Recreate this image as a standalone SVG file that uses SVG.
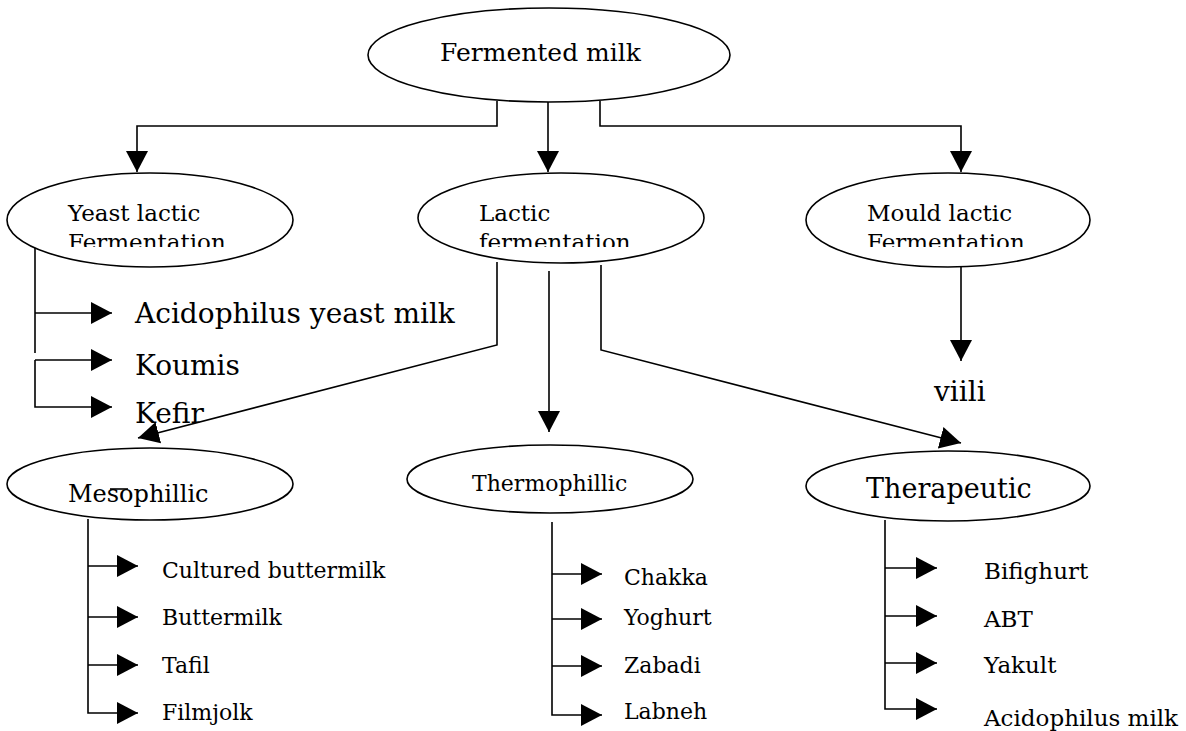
<svg xmlns="http://www.w3.org/2000/svg" width="1186" height="731" viewBox="0 0 1186 731">
<style>
.el{fill:#fff;stroke:#000;stroke-width:1.6}
.cn{fill:none;stroke:#000;stroke-width:1.6}
text{font-family:"DejaVu Serif","Liberation Serif",serif;fill:#000}
.t22{font-size:22px}
.t23{font-size:23px}
.t28{font-size:28px}
</style>
<defs>
<marker id="ah" markerUnits="userSpaceOnUse" markerWidth="21" markerHeight="22" viewBox="0 0 21 22" refX="21" refY="11" orient="auto">
<path d="M0,0 L21,11 L0,22 Z" fill="#000"/>
</marker>
<clipPath id="c2"><rect x="0" y="0" width="1186" height="247"/></clipPath>
</defs>
<rect width="1186" height="731" fill="#fff"/>

<g id="connectors">
<path class="cn" d="M497,101 V126 H137 V172" marker-end="url(#ah)"/>
<path class="cn" d="M548,102 V172" marker-end="url(#ah)"/>
<path class="cn" d="M600,101 V126 H961 V172" marker-end="url(#ah)"/>
<path class="cn" d="M35,242 V353"/>
<path class="cn" d="M35,313 H112" marker-end="url(#ah)"/>
<path class="cn" d="M35,360 H112" marker-end="url(#ah)"/>
<path class="cn" d="M35,360 V407 H112" marker-end="url(#ah)"/>
<path class="cn" d="M497,262 V345 L138,438" marker-end="url(#ah)"/>
<path class="cn" d="M549,271 V432" marker-end="url(#ah)"/>
<path class="cn" d="M601,265 V350 L961,443" marker-end="url(#ah)"/>
<path class="cn" d="M961,267 V361" marker-end="url(#ah)"/>
<path class="cn" d="M88,519 V713 H138" marker-end="url(#ah)"/>
<path class="cn" d="M88,566 H138" marker-end="url(#ah)"/>
<path class="cn" d="M88,617 H138" marker-end="url(#ah)"/>
<path class="cn" d="M88,665 H138" marker-end="url(#ah)"/>
<path class="cn" d="M552,522 V715 H602" marker-end="url(#ah)"/>
<path class="cn" d="M552,574 H602" marker-end="url(#ah)"/>
<path class="cn" d="M552,619 H602" marker-end="url(#ah)"/>
<path class="cn" d="M552,666 H602" marker-end="url(#ah)"/>
<path class="cn" d="M885,520 V709 H937" marker-end="url(#ah)"/>
<path class="cn" d="M885,568 H937" marker-end="url(#ah)"/>
<path class="cn" d="M885,616 H937" marker-end="url(#ah)"/>
<path class="cn" d="M885,663 H937" marker-end="url(#ah)"/>
</g>

<g id="fermented-milk">
<ellipse class="el" cx="549" cy="55" rx="181" ry="47"/>
<text x="440" y="61" style="font-size:25px">Fermented milk</text>
</g>

<g id="yeast-lactic">
<ellipse class="el" cx="150" cy="220" rx="143" ry="47"/>
<text class="t23" x="68" y="221">Yeast lactic</text>
<text class="t23" x="68" y="250" clip-path="url(#c2)">Fermentation</text>
</g>

<g id="lactic">
<ellipse class="el" cx="561" cy="218" rx="143" ry="45"/>
<text class="t23" x="479" y="221">Lactic</text>
<text class="t23" x="479" y="250" clip-path="url(#c2)">fermentation</text>
</g>

<g id="mould-lactic">
<ellipse class="el" cx="948" cy="220" rx="142" ry="47"/>
<text class="t23" x="867" y="221">Mould lactic</text>
<text class="t23" x="867" y="250" clip-path="url(#c2)">Fermentation</text>
</g>

<g id="yeast-products">
<text class="t28" x="135" y="323">Acidophilus yeast milk</text>
<text class="t28" x="135" y="375">Koumis</text>
<text class="t28" x="135" y="423">Kefir</text>
</g>

<g id="viili">
<text class="t28" x="934" y="401">viili</text>
</g>

<g id="mesophillic">
<ellipse class="el" cx="150" cy="484" rx="143" ry="36"/>
<text x="68" y="502" style="font-size:24px">Mesophillic</text>
<line x1="110" y1="489" x2="128" y2="489" stroke="#000" stroke-width="1.6"/>
</g>

<g id="thermophillic">
<ellipse class="el" cx="550" cy="479" rx="143" ry="34"/>
<text class="t22" x="472" y="491">Thermophillic</text>
</g>

<g id="therapeutic">
<ellipse class="el" cx="948" cy="486" rx="142" ry="35"/>
<text x="866" y="498" style="font-size:27px">Therapeutic</text>
</g>

<g id="mesophillic-products">
<text class="t22" x="162" y="578">Cultured buttermilk</text>
<text class="t22" x="162" y="625">Buttermilk</text>
<text class="t22" x="162" y="673">Tafil</text>
<text class="t22" x="162" y="720">Filmjolk</text>
</g>

<g id="thermophillic-products">
<text class="t22" x="624" y="585">Chakka</text>
<text class="t22" x="624" y="625">Yoghurt</text>
<text class="t22" x="624" y="673">Zabadi</text>
<text class="t22" x="624" y="719">Labneh</text>
</g>

<g id="therapeutic-products">
<text class="t23" x="984" y="579">Bifighurt</text>
<text class="t23" x="984" y="627">ABT</text>
<text class="t23" x="984" y="673">Yakult</text>
<text class="t23" x="984" y="726">Acidophilus milk</text>
</g>
</svg>
